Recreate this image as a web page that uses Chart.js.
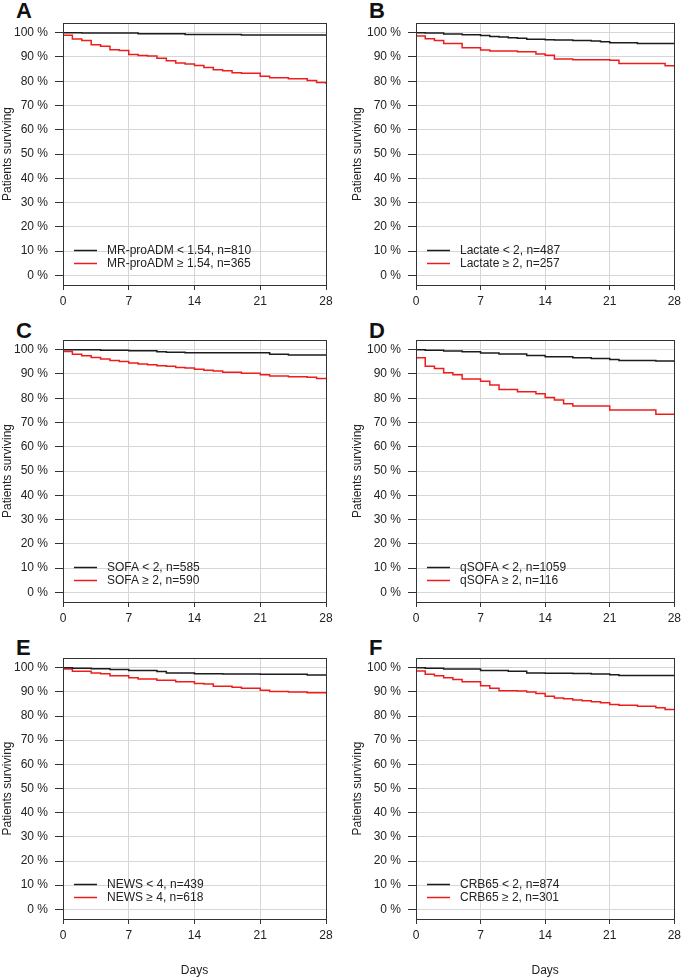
<!DOCTYPE html>
<html lang="en">
<head>
<meta charset="UTF-8">
<title>Survival curves by risk score</title>
<style>
  body { margin: 0; background: #fff; width: 685px; height: 979px; position: relative; overflow: hidden;
         font-family: Arial, "Liberation Sans", sans-serif; }
  canvas { position: absolute; }
  .tag { position: absolute; font-weight: bold; font-size: 22px; line-height: 1; color: #111; }
</style>
</head>
<body>
<div class="tag" style="left:16px;top:0px">A</div>
<div class="tag" style="left:369px;top:0px">B</div>
<div class="tag" style="left:16px;top:320px">C</div>
<div class="tag" style="left:369px;top:320px">D</div>
<div class="tag" style="left:16px;top:637px">E</div>
<div class="tag" style="left:369px;top:637px">F</div>

<canvas id="chartA" width="340" height="318" style="left:0;top:0"></canvas>
<canvas id="chartB" width="335" height="318" style="left:350px;top:0"></canvas>
<canvas id="chartC" width="340" height="317" style="left:0;top:318px"></canvas>
<canvas id="chartD" width="335" height="317" style="left:350px;top:318px"></canvas>
<canvas id="chartE" width="340" height="343" style="left:0;top:635px"></canvas>
<canvas id="chartF" width="335" height="343" style="left:350px;top:635px"></canvas>

<script src="https://cdn.jsdelivr.net/npm/chart.js"></script>
<script>
// x ticks (days) and y ticks (percent surviving)
const dayTicks = [0, 7, 14, 21, 28];
const pctTicks = [0, 10, 20, 30, 40, 50, 60, 70, 80, 90, 100];

// [day, % surviving]
const aLow  = [[0,100],[2,99.9],[8,99.6],[13,99.3],[19,99.1],[28,99.1]];
const aHigh = [[0,100],[0,98.9],[1,97.4],[2,96.8],[3,95.0],[4,94.4],[5,93.0],[6,92.7],[7,91.0],[8,90.6],[9,90.4],[10,89.5],[11,88.4],[12,87.5],[13,87.1],[14,86.5],[15,85.7],[16,84.7],[17,84.3],[18,83.5],[19,83.3],[21,82.0],[22,81.4],[24,81.0],[26,80.3],[27,79.5],[28,78.9]];

const bLow  = [[0,100],[1,99.9],[3,99.5],[5,99.2],[7,98.8],[8,98.4],[9,98.2],[10,97.9],[11,97.7],[12,97.3],[14,97.1],[15,97.0],[17,96.8],[19,96.6],[20,96.3],[21,95.9],[24,95.6],[28,95.5]];
const bHigh = [[0,100],[0,98.6],[1,97.5],[2,96.8],[3,95.5],[5,93.8],[7,92.9],[8,92.5],[11,92.1],[13,91.2],[14,90.7],[15,89.2],[17,88.9],[21,88.6],[22,87.3],[27,86.4],[28,86.4]];

const cLow  = [[0,100],[4,99.8],[7,99.6],[10,99.2],[11,98.9],[13,98.7],[22,98.1],[24,97.8],[28,97.8]];
const cHigh = [[0,100],[0,99.3],[1,98.1],[2,97.5],[3,96.8],[4,96.2],[5,95.5],[6,95.1],[7,94.5],[8,94.1],[9,93.8],[10,93.4],[11,93.2],[12,92.7],[13,92.5],[14,91.9],[15,91.5],[16,91.2],[17,90.7],[19,90.3],[21,89.7],[22,89.2],[24,88.9],[26,88.6],[27,88.1],[28,87.8]];

const dLow  = [[0,100],[1,99.8],[3,99.5],[5,99.2],[7,98.6],[9,98.2],[12,97.6],[14,97.1],[17,96.7],[19,96.4],[21,96.0],[22,95.6],[26,95.3],[28,94.9]];
const dHigh = [[0,100],[0,96.7],[1,93.2],[2,92.3],[3,90.5],[4,89.7],[5,87.9],[7,87.0],[8,85.5],[9,83.6],[11,82.7],[13,81.8],[14,80.3],[15,79.3],[16,77.7],[17,76.8],[21,75.1],[26,73.4],[28,73.4]];

const eLow  = [[0,100],[1,99.8],[3,99.6],[5,99.2],[7,98.8],[10,98.4],[11,97.8],[14,97.5],[17,97.4],[21,97.3],[26,97.0],[28,96.8]];
const eHigh = [[0,100],[0,99.5],[1,98.5],[3,97.8],[4,97.5],[5,96.7],[7,95.8],[8,95.3],[10,94.8],[12,94.2],[14,93.4],[15,93.2],[16,92.3],[18,91.9],[19,91.5],[21,90.7],[22,90.1],[24,89.9],[26,89.6],[28,89.2]];

const fLow  = [[0,100],[1,99.8],[3,99.5],[7,98.8],[10,98.5],[12,97.8],[14,97.7],[17,97.6],[19,97.4],[21,97.1],[22,96.8],[28,96.6]];
const fHigh = [[0,100],[0,98.6],[1,97.3],[2,96.7],[3,95.8],[4,95.1],[5,94.2],[7,92.5],[8,91.5],[9,90.5],[11,90.3],[12,89.9],[13,89.3],[14,88.2],[15,87.5],[16,87.1],[17,86.6],[18,86.3],[19,85.9],[20,85.5],[21,84.8],[22,84.4],[24,84.0],[26,83.4],[27,82.7],[28,82.7]];

// legend labels per panel
const aLabels = ['MR-proADM < 1.54, n=810', 'MR-proADM \u2265 1.54, n=365'];
const bLabels = ['Lactate < 2, n=487', 'Lactate \u2265 2, n=257'];
const cLabels = ['SOFA < 2, n=585', 'SOFA \u2265 2, n=590'];
const dLabels = ['qSOFA < 2, n=1059', 'qSOFA \u2265 2, n=116'];
const eLabels = ['NEWS < 4, n=439', 'NEWS \u2265 4, n=618'];
const fLabels = ['CRB65 < 2, n=874', 'CRB65 \u2265 2, n=301'];

const LOW_COLOR = '#1c1c1c';
const HIGH_COLOR = '#f01c1c';
const TEXT = '#222';
const FONT = 'Arial, "Liberation Sans", sans-serif';

Chart.defaults.font.family = FONT;
Chart.defaults.font.size = 12;
Chart.defaults.color = TEXT;

// box around the plot region, like R's box()
const frame = {
    id: 'frame',
    afterDraw(chart) {
        const a = chart.chartArea;
        const ctx = chart.ctx;
        ctx.save();
        ctx.strokeStyle = '#333';
        ctx.lineWidth = 1;
        ctx.strokeRect(Math.round(a.left) + 0.5, Math.round(a.top) + 0.5,
                       Math.round(a.right - a.left), Math.round(a.bottom - a.top));
        ctx.restore();
    }
};

// legend drawn inside the plot, bottom left
const innerLegend = {
    id: 'innerLegend',
    afterDraw(chart, args, opts) {
        const a = chart.chartArea;
        const ctx = chart.ctx;
        ctx.save();
        ctx.font = '12px ' + FONT;
        ctx.textBaseline = 'middle';
        chart.data.datasets.forEach((ds, i) => {
            const y = Math.round(a.bottom - 35 + i * 13) + 0.5;
            ctx.strokeStyle = ds.borderColor;
            ctx.lineWidth = 1.5;
            ctx.beginPath();
            ctx.moveTo(a.left + 11, y);
            ctx.lineTo(a.left + 34, y);
            ctx.stroke();
            ctx.fillStyle = TEXT;
            ctx.fillText(ds.label, a.left + 44, y);
        });
        ctx.restore();
    }
};

function toXY(arr) {
    return arr.map(p => ({ x: p[0], y: p[1] }));
}

function makePanel(id, low, high, labels, layout) {
    const ctx = document.getElementById(id).getContext('2d');
    return new Chart(ctx, {
        type: 'line',
        data: {
            datasets: [
                { label: labels[0], data: toXY(low), borderColor: LOW_COLOR, borderWidth: 1.5,
                  stepped: true, pointRadius: 0, fill: false },
                { label: labels[1], data: toXY(high), borderColor: HIGH_COLOR, borderWidth: 1.5,
                  stepped: true, pointRadius: 0, fill: false }
            ]
        },
        options: {
            responsive: false,
            animation: false,
            layout: { padding: { top: layout.top, right: layout.right, left: 0, bottom: 0 } },
            plugins: { legend: { display: false }, tooltip: { enabled: false } },
            scales: {
                x: {
                    type: 'linear',
                    min: 0,
                    max: 28,
                    afterBuildTicks: s => { s.ticks = dayTicks.map(v => ({ value: v })); },
                    afterFit: s => { s.height = layout.xh; },
                    ticks: { autoSkip: false, maxRotation: 0, padding: 4, color: TEXT, font: { size: 12 } },
                    grid: { color: '#d6d6d6', tickColor: '#333', tickLength: 5 },
                    border: { color: '#333' },
                    title: { display: layout.days, text: 'Days', padding: 0, color: TEXT, font: { size: 12 } }
                },
                y: {
                    min: -4,
                    max: 104,
                    afterBuildTicks: s => { s.ticks = pctTicks.map(v => ({ value: v })); },
                    afterFit: s => { s.width = layout.yw; },
                    ticks: { autoSkip: false, padding: 7, color: TEXT, font: { size: 12 },
                             callback: v => v + ' %' },
                    grid: { color: '#d6d6d6', tickColor: '#333', tickLength: 8 },
                    border: { color: '#333' },
                    title: { display: true, text: 'Patients surviving', padding: 0, color: TEXT, font: { size: 12 } }
                }
            }
        },
        plugins: [frame, innerLegend]
    });
}

makePanel('chartA', aLow, aHigh, aLabels, { top: 23, right: 14, yw: 63, xh: 33, days: false });
makePanel('chartB', bLow, bHigh, bLabels, { top: 23, right: 7, yw: 66, xh: 33, days: false });
makePanel('chartC', cLow, cHigh, cLabels, { top: 22, right: 14, yw: 63, xh: 33, days: false });
makePanel('chartD', dLow, dHigh, dLabels, { top: 22, right: 7, yw: 66, xh: 33, days: false });
makePanel('chartE', eLow, eHigh, eLabels, { top: 23, right: 14, yw: 63, xh: 59, days: true });
makePanel('chartF', fLow, fHigh, fLabels, { top: 23, right: 7, yw: 66, xh: 59, days: true });
</script>
</body>
</html>
